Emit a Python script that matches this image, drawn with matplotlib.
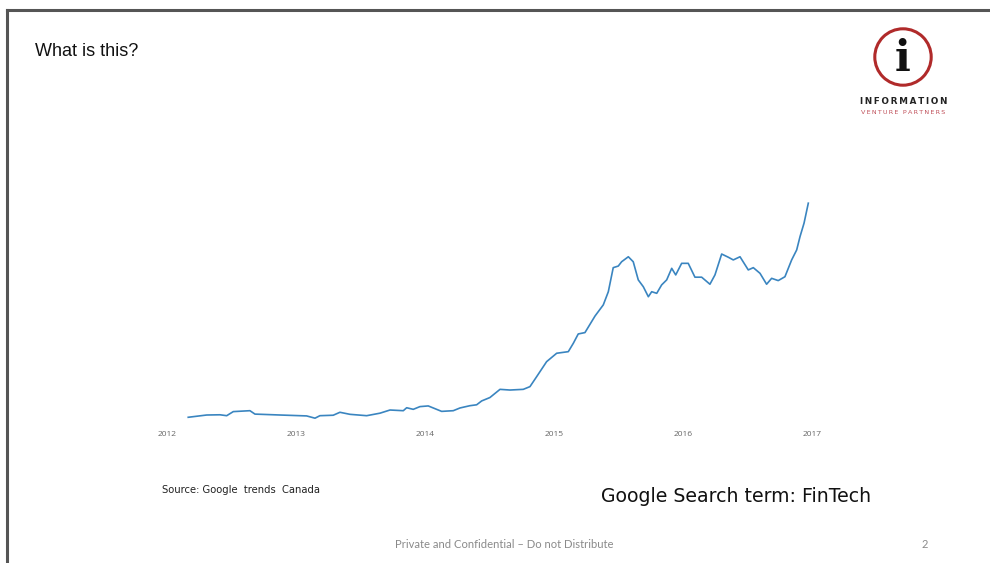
import numpy as np
import matplotlib.pyplot as plt
from matplotlib.patches import Circle
from matplotlib.lines import Line2D

# Google Trends (Canada), search term "FinTech"
years = [2012.167, 2012.310, 2012.413, 2012.465, 2012.516, 2012.645, 2012.684, 2012.878,
         2013.084, 2013.149, 2013.187, 2013.290, 2013.342, 2013.420, 2013.549, 2013.652,
         2013.730, 2013.833, 2013.859, 2013.910, 2013.962, 2014.026, 2014.130, 2014.220,
         2014.272, 2014.349, 2014.401, 2014.440, 2014.504, 2014.582, 2014.659, 2014.762,
         2014.814, 2014.866, 2014.943, 2015.021, 2015.111, 2015.150, 2015.188, 2015.240,
         2015.318, 2015.382, 2015.421, 2015.459, 2015.498, 2015.524, 2015.576, 2015.614,
         2015.653, 2015.692, 2015.731, 2015.757, 2015.796, 2015.834, 2015.873, 2015.912,
         2015.943, 2015.989, 2016.040, 2016.092, 2016.144, 2016.208, 2016.247, 2016.299,
         2016.350, 2016.389, 2016.441, 2016.505, 2016.544, 2016.596, 2016.647, 2016.686,
         2016.737, 2016.789, 2016.841, 2016.880, 2016.906, 2016.937, 2016.970]
interest = [5.6, 6.6, 6.7, 6.3, 8.1, 8.5, 7.0, 6.6,
            6.2, 5.2, 6.3, 6.5, 7.8, 6.9, 6.3, 7.4,
            8.8, 8.5, 9.8, 9.1, 10.3, 10.6, 8.2, 8.5,
            9.7, 10.7, 11.1, 12.8, 14.3, 17.9, 17.6, 17.9,
            19.1, 23.5, 30.1, 33.8, 34.5, 38.2, 42.3, 42.9,
            50.2, 55.1, 60.9, 71.5, 72.2, 74.1, 76.3, 74.1,
            66.1, 63.1, 58.7, 60.9, 60.2, 63.9, 66.1, 71.2,
            68.3, 73.4, 73.4, 67.3, 67.3, 64.2, 68.3, 77.5,
            76.1, 74.9, 76.3, 70.5, 71.5, 69.0, 64.2, 66.8,
            65.8, 67.5, 74.9, 79.3, 85.2, 91.1, 99.9]
tick_years = [2012, 2013, 2014, 2015, 2016, 2017]

W, H = 990, 563
fig = plt.figure(figsize=(W / 100, H / 100), dpi=100)


def fx(x):
    return x / W


def fy(y):
    return 1 - y / H


# slide frame (top and left edges only)
fig.add_artist(Line2D([fx(7), 1], [fy(10), fy(10)], color='#555555', lw=2.2))
fig.add_artist(Line2D([fx(7), fx(7)], [fy(10), 0], color='#555555', lw=2.2))

# chart
ax = fig.add_axes([fx(130), fy(425), fx(850) - fx(130), fy(190) - fy(425)])
ax.plot(years, interest, color='#3a85c0', lw=1.2)
ax.set_xlim(2011.716, 2017.293)
ax.set_ylim(2.2, 105.7)
ax.set_xticks(tick_years)
ax.set_xticklabels([str(t) for t in tick_years], fontsize=6, color='#666666', family='Open Sans')
ax.tick_params(axis='x', length=0, pad=4)
ax.set_yticks([])
for s in ax.spines.values():
    s.set_visible(False)

# texts
fig.text(fx(35), fy(51), 'What is this?', fontsize=13, family='Liberation Sans',
         va='center', ha='left', color='#111111')
fig.text(fx(162), fy(490), 'Source: Google  trends  Canada', fontsize=7.2,
         family='DejaVu Sans', va='center', ha='left', color='#222222')
fig.text(fx(601), fy(496), 'Google Search term: FinTech', fontsize=13.6,
         family='DejaVu Sans', va='center', ha='left', color='#111111')
fig.text(fx(504), fy(544), 'Private and Confidential \u2013 Do not Distribute', fontsize=8.1,
         family='Lato', va='center', ha='center', color='#8a8a8a')
fig.text(fx(925), fy(544), '2', fontsize=8, family='Lato', va='center', ha='center',
         color='#8a8a8a')

# logo
logo = fig.add_axes([fx(873), fy(87), fx(933) - fx(873), fy(27) - fy(87)])
logo.set_xlim(-1, 1)
logo.set_ylim(-1, 1)
logo.set_aspect('equal')
logo.axis('off')
logo.add_patch(Circle((0, 0), 0.94, fill=False, ec='#b02a2a', lw=2.2))
logo.text(0, -0.08, 'i', fontsize=30, fontweight='bold', family='DejaVu Serif',
          ha='center', va='center', color='#111111')
fig.text(fx(904), fy(101), '\u2009'.join('INFORMATION'), fontsize=6.3, fontweight='bold',
         family='DejaVu Sans', ha='center', va='center', color='#222222')
fig.text(fx(903), fy(113), '\u2009'.join('VENTURE PARTNERS'), fontsize=4.6,
         family='DejaVu Sans', ha='center', va='center', color='#c0505a')

fig.savefig('out.png', dpi=100)
